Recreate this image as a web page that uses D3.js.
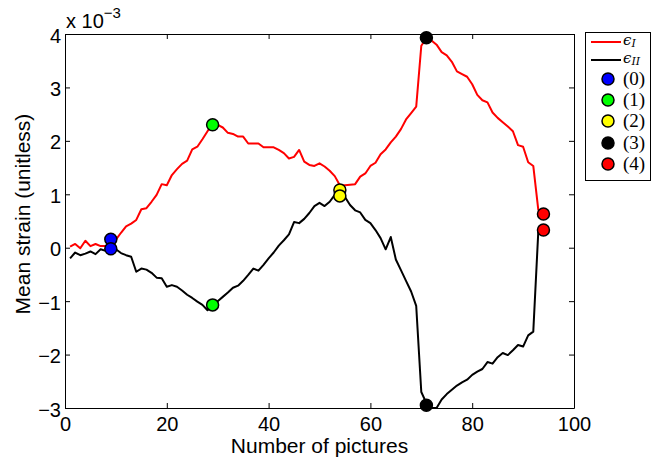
<!DOCTYPE html>
<html><head><meta charset="utf-8">
<script src="https://cdn.jsdelivr.net/npm/d3@7"></script>
<style>body{margin:0;background:#fff}svg{display:block}text{font-family:"Liberation Sans",Arial,sans-serif}</style>
</head><body><svg id="c" width="652" height="460"></svg>
<script>
const pictures = [1,2,3,4,5,6,7,8,9,10,11,12,13,14,15,16,17,18,19,20,21,22,23,24,25,26,27,28,29,30,31,32,33,34,35,36,37,38,39,40,41,42,43,44,45,46,47,48,49,50,51,52,53,54,55,56,57,58,59,60,61,62,63,64,65,66,67,68,69,70,71,72,73,74,75,76,77,78,79,80,81,82,83,84,85,86,87,88,89,90,91,92,93];
const strainI = [0.02,0.07,-0.01,0.13,0.03,0.07,0.03,0.03,0.02,0.15,
0.28,0.40,0.45,0.52,0.72,0.74,0.86,0.99,1.19,1.17,
1.36,1.47,1.57,1.63,1.84,1.89,2.03,2.18,2.30,2.30,
2.25,2.15,2.13,2.08,2.08,1.95,1.95,1.95,1.88,1.88,
1.88,1.83,1.77,1.67,1.70,1.83,1.61,1.55,1.53,1.58,
1.52,1.44,1.34,1.17,1.17,1.18,1.19,1.33,1.39,1.53,
1.59,1.75,1.84,1.97,2.08,2.22,2.40,2.52,2.64,3.78,
3.92,3.88,3.80,3.66,3.60,3.48,3.30,3.25,3.20,3.06,
2.86,2.76,2.72,2.53,2.43,2.35,2.27,2.18,1.92,1.89,
1.60,1.53,0.70];
const strainII = [-0.20,-0.09,-0.14,-0.11,-0.07,-0.12,-0.03,-0.06,-0.01,-0.03,
-0.10,-0.14,-0.17,-0.45,-0.39,-0.41,-0.47,-0.56,-0.57,-0.73,
-0.70,-0.73,-0.80,-0.88,-0.94,-1.01,-1.07,-1.17,-1.08,-1.00,
-0.92,-0.84,-0.75,-0.71,-0.62,-0.51,-0.39,-0.43,-0.32,-0.20,
-0.09,0.04,0.14,0.25,0.48,0.46,0.54,0.65,0.78,0.84,
0.78,0.86,0.99,1.05,0.95,0.80,0.70,0.66,0.52,0.46,
0.33,0.18,-0.03,0.20,-0.22,-0.42,-0.62,-0.82,-1.09,-2.70,
-2.91,-3.00,-3.00,-2.84,-2.74,-2.66,-2.58,-2.52,-2.47,-2.38,
-2.32,-2.27,-2.14,-2.17,-2.05,-1.97,-2.01,-1.92,-1.82,-1.85,
-1.64,-1.57,0.33];
const markerLabels = ["(0)","(1)","(2)","(3)","(4)"];
const markerColors = ["#0000ff","#00ff00","#ffff00","#000000","#ff0000"];
const markerX = [9,29,54,71,94];
const markerI = [0.16,2.30,1.08,3.93,0.63];
const markerII = [-0.02,-1.07,0.97,-2.95,0.33];
const xTicks = [0,20,40,60,80,100];
const yTicks = [-3,-2,-1,0,1,2,3,4];

const svg = d3.select("#c");
svg.append("rect").attr("width",652).attr("height",460).attr("fill","#fff");
const L=65,R=574,T=34,B=408;
const x = d3.scaleLinear().domain([0,100]).range([L,R]);
const y = d3.scaleLinear().domain([-3,4]).range([B,T]);
const fmt = d => d < 0 ? "\u2212" + (-d) : String(d);

function styleAxis(g){g.selectAll("path").attr("stroke","#000").attr("stroke-width",1);
  g.selectAll("line").attr("stroke","#000");
  g.selectAll("text").attr("fill","#000").style("font-family","'Liberation Sans',Arial,sans-serif").style("font-size","20px");}

svg.append("g").attr("transform",`translate(0,${B})`)
  .call(d3.axisBottom(x).tickValues(xTicks).tickSizeInner(-5).tickSizeOuter(0).tickPadding(9).tickFormat(fmt)).call(styleAxis);
svg.append("g").attr("transform",`translate(0,${T})`)
  .call(d3.axisTop(x).tickValues(xTicks).tickSizeInner(-5).tickSizeOuter(0).tickFormat("")).call(styleAxis);
const yAx = svg.append("g").attr("transform",`translate(${L},0)`)
  .call(d3.axisLeft(y).tickValues(yTicks).tickSizeInner(-5).tickSizeOuter(0).tickPadding(4).tickFormat(fmt)).call(styleAxis);
yAx.selectAll("text").attr("dy","0.4em");
svg.append("g").attr("transform",`translate(${R},0)`)
  .call(d3.axisRight(y).tickValues(yTicks).tickSizeInner(-5).tickSizeOuter(0).tickFormat("")).call(styleAxis);

const line = d3.line().x((d,i)=>x(pictures[i])).y(d=>y(d));
svg.append("path").datum(strainI).attr("d",line).attr("fill","none").attr("stroke","#ff0000").attr("stroke-width",2).attr("stroke-linejoin","round");
svg.append("path").datum(strainII).attr("d",line).attr("fill","none").attr("stroke","#000").attr("stroke-width",2).attr("stroke-linejoin","round");

markerX.forEach((mx,i)=>{
  [markerI[i],markerII[i]].forEach(v=>{
    svg.append("circle").attr("cx",x(mx)).attr("cy",y(v)).attr("r",6)
      .attr("fill",markerColors[i]).attr("stroke","#000").attr("stroke-width",1.5);
  });
});

// exponent
const ex = svg.append("text").attr("x",66).attr("y",28).style("font-size","20px");
ex.append("tspan").text("x 10");
ex.append("tspan").attr("dy",-10).style("font-size","15px").text("\u22123");

svg.append("text").attr("x",(L+R)/2).attr("y",453).attr("text-anchor","middle").style("font-size","21px").text("Number of pictures");
svg.append("text").attr("transform","translate(30,214) rotate(-90)").attr("text-anchor","middle").style("font-size","21px").text("Mean strain (unitless)");

// legend
const lg = svg.append("g");
lg.append("rect").attr("x",585.5).attr("y",32.5).attr("width",65).attr("height",148).attr("fill","#fff").attr("stroke","#000").attr("stroke-width",1);
const serif = "'Liberation Serif','DejaVu Serif',serif";
const lineRows = [{c:"#ff0000",sub:"I",y:42},{c:"#000",sub:"II",y:60}];
lineRows.forEach(r=>{
  lg.append("line").attr("x1",591).attr("x2",621).attr("y1",r.y).attr("y2",r.y).attr("stroke",r.c).attr("stroke-width",2);
  const t = lg.append("text").attr("x",623).attr("y",r.y+3).style("font-family","'DejaVu Serif',serif").style("font-style","italic").style("font-size","15px");
  t.append("tspan").text("\u03f5");
  t.append("tspan").attr("dy",2).style("font-size","11px").text(r.sub);
});
const rowY = [79,100,121,143,164];
markerLabels.forEach((lab,i)=>{
  lg.append("circle").attr("cx",608).attr("cy",rowY[i]).attr("r",6).attr("fill",markerColors[i]).attr("stroke","#000").attr("stroke-width",1.5);
  lg.append("text").attr("x",623).attr("y",rowY[i]+6).style("font-family",serif).style("font-size","19px").text(lab);
});
</script></body></html>
